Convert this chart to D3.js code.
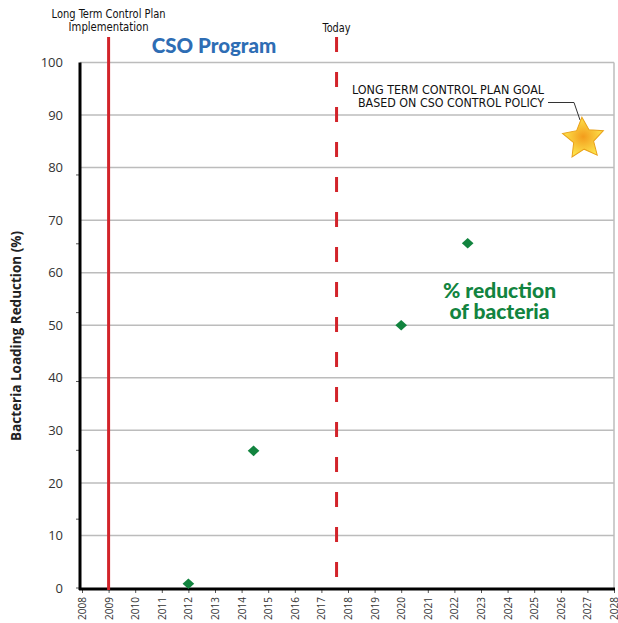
<!DOCTYPE html>
<html><head><meta charset="utf-8">
<script src="https://cdn.jsdelivr.net/npm/d3@7"></script>
<style>body{margin:0;background:#fff}svg{display:block}</style>
</head><body>
<script>
const years = [2012, 2014.45, 2020, 2022.5];
const reductions = [0.8, 26.1, 50, 65.6];
const goal = {year: 2026.85, value: 85.5};
const implYear = 2009;
const todayYear = 2017.57;
const xTicks = d3.range(2008, 2029);
const yTicks = [0,10,20,30,40,50,60,70,80,90,100];
const yMinorTicks = [0,13.1,26.2,39.3,52.4,65.5,78.6];

const W=618,H=623;
const svg=d3.select("body").append("svg").attr("width",W).attr("height",H);
const x=d3.scaleLinear().domain([2008,2028]).range([82,614]);
const y=d3.scaleLinear().domain([0,100]).range([588,62.5]);
const narrow="'Liberation Sans Narrow','DejaVu Sans Condensed',sans-serif";

// grid
svg.append("g").selectAll("line").data(yTicks.filter(d=>d>0)).join("line")
  .attr("x1",80).attr("x2",614).attr("y1",d=>y(d)).attr("y2",d=>y(d))
  .attr("stroke","#bcbcbc").attr("stroke-width",1.5);
svg.append("line").attr("x1",614).attr("x2",614).attr("y1",y(100)).attr("y2",y(0))
  .attr("stroke","#bcbcbc").attr("stroke-width",1.5);

// y axis
const ya=svg.append("g").attr("transform","translate(80,0)")
  .call(d3.axisLeft(y).tickValues(yTicks).tickSize(0).tickPadding(17));
ya.select(".domain").remove();
ya.selectAll("text").attr("font-family","'Open Sans',sans-serif").attr("font-size",13).attr("fill","#333");
svg.append("g").selectAll("line").data(yMinorTicks).join("line")
  .attr("x1",76).attr("x2",80).attr("y1",d=>y(d)).attr("y2",d=>y(d)).attr("stroke","#555");
svg.append("line").attr("x1",80).attr("x2",80).attr("y1",y(100)).attr("y2",590)
  .attr("stroke","#000").attr("stroke-width",3);

// x axis
const xa=svg.append("g").attr("transform","translate(0,589)")
  .call(d3.axisBottom(x).tickValues(xTicks).tickFormat(d3.format("d")).tickSize(4).tickPadding(4));
xa.select(".domain").remove();
xa.selectAll(".tick line").attr("stroke","#555");
xa.selectAll("text").attr("font-family","'Open Sans',sans-serif").attr("font-size",10).attr("fill","#333")
  .attr("transform","rotate(-90)").attr("text-anchor","end").attr("dy","0.35em").attr("x",-8).attr("y",0);
svg.append("line").attr("x1",79).attr("x2",615).attr("y1",589).attr("y2",589)
  .attr("stroke","#000").attr("stroke-width",3);

// y title
svg.append("text").attr("transform","translate(21,336) rotate(-90)").attr("text-anchor","middle")
  .attr("font-family","'Open Sans',sans-serif").attr("font-weight","bold").attr("font-size",13.5).attr("fill","#222")
  .text("Bacteria Loading Reduction (%)");

// implementation line
svg.append("line").attr("x1",x(implYear)).attr("x2",x(implYear)).attr("y1",37).attr("y2",590)
  .attr("stroke","#d2232a").attr("stroke-width",3);
svg.append("text").attr("x",x(implYear)).attr("y",18).attr("text-anchor","middle")
  .attr("font-family",narrow).attr("font-size",12.5).attr("fill","#111")
  .attr("textLength",114).attr("lengthAdjust","spacingAndGlyphs").text("Long Term Control Plan");
svg.append("text").attr("x",x(implYear)).attr("y",31).attr("text-anchor","middle")
  .attr("font-family",narrow).attr("font-size",12.5).attr("fill","#111")
  .attr("textLength",80).attr("lengthAdjust","spacingAndGlyphs").text("Implementation");

// today line
svg.append("line").attr("x1",x(todayYear)).attr("x2",x(todayYear)).attr("y1",37).attr("y2",590)
  .attr("stroke","#d2232a").attr("stroke-width",3).attr("stroke-dasharray","15 20");
svg.append("text").attr("x",x(todayYear)).attr("y",32).attr("text-anchor","middle")
  .attr("font-family",narrow).attr("font-size",12.5).attr("fill","#111")
  .attr("textLength",28).attr("lengthAdjust","spacingAndGlyphs").text("Today");

// CSO Program
svg.append("text").attr("x",214).attr("y",53).attr("text-anchor","middle")
  .attr("font-family","Lato,sans-serif").attr("font-weight","900").attr("font-size",20.5).attr("fill","#2e6db4")
  .text("CSO Program");

// points
svg.append("g").selectAll("path").data(years.map((d,i)=>({x:d,v:reductions[i]}))).join("path")
  .attr("d",d3.symbol(d3.symbolSquare,56)())
  .attr("transform",d=>`translate(${x(d.x)},${y(d.v)}) scale(1.1,1) rotate(45)`)
  .attr("fill","#12843f");

svg.append("text").attr("x",499.5).attr("y",298).attr("text-anchor","middle")
  .attr("font-family","Lato,sans-serif").attr("font-weight","900").attr("font-size",21).attr("fill","#12843f")
  .text("% reduction");
svg.append("text").attr("x",499.5).attr("y",319).attr("text-anchor","middle")
  .attr("font-family","Lato,sans-serif").attr("font-weight","900").attr("font-size",21).attr("fill","#12843f")
  .text("of bacteria");

// goal annotation
svg.append("text").attr("x",448).attr("y",94).attr("text-anchor","middle")
  .attr("font-family",narrow).attr("font-size",12.5).attr("fill","#111")
  .attr("textLength",192).attr("lengthAdjust","spacingAndGlyphs").text("LONG TERM CONTROL PLAN GOAL");
svg.append("text").attr("x",451).attr("y",107).attr("text-anchor","middle")
  .attr("font-family",narrow).attr("font-size",12.5).attr("fill","#111")
  .attr("textLength",186).attr("lengthAdjust","spacingAndGlyphs").text("BASED ON CSO CONTROL POLICY");
svg.append("path").attr("d",`M548,102.5 L574,102.5 L580,120`).attr("fill","none").attr("stroke","#333").attr("stroke-width",1);

const defs=svg.append("defs");
const g=defs.append("radialGradient").attr("id","sg");
g.append("stop").attr("offset","0%").attr("stop-color","#f39c1c");
g.append("stop").attr("offset","100%").attr("stop-color","#fde34c");
const starPts=d3.range(10).map(i=>[i*Math.PI/5, i%2?10.5:21.5]);
svg.append("path").attr("d",d3.lineRadial().curve(d3.curveLinearClosed)(starPts))
  .attr("transform",`translate(${x(goal.year)},${y(goal.value)}) rotate(-4)`)
  .attr("fill","url(#sg)").attr("stroke","#e9a21a").attr("stroke-width",1);
</script>
</body></html>
